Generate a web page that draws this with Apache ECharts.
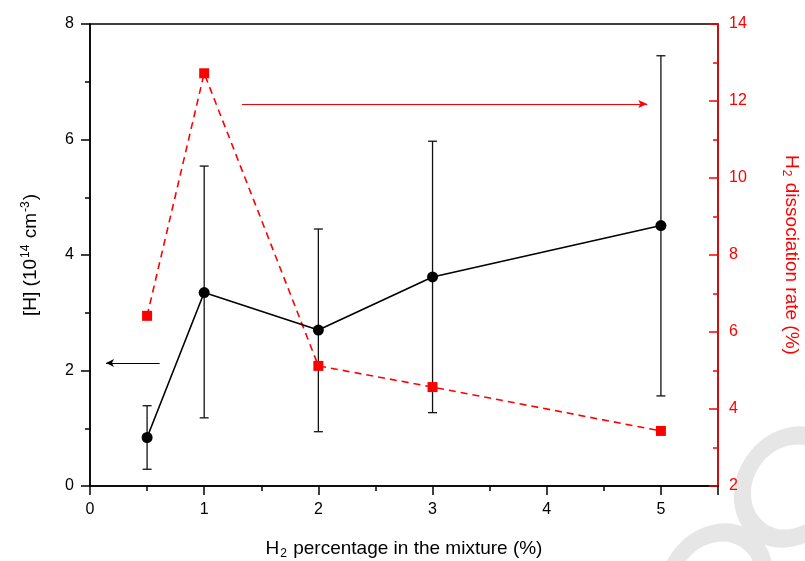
<!DOCTYPE html>
<html>
<head>
<meta charset="utf-8">
<script src="https://cdn.jsdelivr.net/npm/echarts@6/dist/echarts.min.js"></script>
<style>
  html, body { margin: 0; padding: 0; background: #fff; }
  #chart { width: 805px; height: 561px; }
</style>
</head>
<body>
<div id="chart"></div>
<script>
// H2 percentage (%)
const h2Percent = [0.5, 1, 2, 3, 5];
// [H] density, 10^14 cm^-3
const hDensity = [0.84, 3.35, 2.70, 3.62, 4.51];
const hErrLow = [0.29, 1.18, 0.94, 1.27, 1.56];
const hErrHigh = [1.39, 5.54, 4.45, 5.97, 7.45];
// H2 dissociation rate (%)
const dissRate = [6.42, 12.72, 5.12, 4.57, 3.43];
// axis-pointer arrows (data coords)
const leftArrow = [[0.61, 2.13], [0.14, 2.13]];
const rightArrow = [[1.33, 11.92], [4.88, 11.92]];

const FONT = 'Liberation Sans, Arial, sans-serif';
const RED = '#ff0000';

const chart = echarts.init(document.getElementById('chart'));

// watermark rings (light grey "O"s at bottom right)
const ring = (x, y) => ({
  type: 'circle',
  x: x, y: y,
  scaleX: 0.85,
  rotation: -0.6,
  shape: { cx: 0, cy: 0, r: 54 },
  style: { fill: 'none', stroke: '#e6e6e6', lineWidth: 19 },
  z: -10,
  silent: true
});

const option = {
  backgroundColor: '#ffffff',
  animation: false,
  graphic: [ring(716, 584), ring(791, 487), ring(862, 376)],
  grid: {
    left: 90, right: 87, top: 24, bottom: 75,
    outerBoundsMode: 'none',
    containLabel: false,
    show: true, borderColor: '#000', borderWidth: 1.5,
    backgroundColor: 'transparent'
  },
  xAxis: {
    type: 'value',
    min: 0, max: 5.5, interval: 1,
    name: '{t|H}{s|2}{t| percentage in the mixture (%)}',
    nameLocation: 'middle',
    nameGap: 52,
    nameTextStyle: {
      rich: {
        t: { fontFamily: FONT, fontSize: 19, color: '#000', lineHeight: 22 },
        s: { fontFamily: FONT, fontSize: 12, color: '#000', lineHeight: 12, verticalAlign: 'bottom', padding: [18, 1, 0, 1] }
      }
    },
    axisLine: { lineStyle: { color: '#000', width: 1.5 } },
    axisTick: { inside: false, length: 9, lineStyle: { color: '#000', width: 1.5 } },
    minorTick: { show: true, splitNumber: 2, length: 5, lineStyle: { color: '#000', width: 1.5 } },
    splitLine: { show: false },
    axisLabel: {
      fontFamily: FONT, fontSize: 16, color: '#000', margin: 16,
      formatter: v => (Number.isInteger(v) ? String(v) : '')
    }
  },
  yAxis: [
    {
      type: 'value',
      position: 'left',
      min: 0, max: 8, interval: 2,
      name: '{t|[H] (10}{p|14}{t| cm}{p|-3}{t|)}',
      nameLocation: 'middle',
      nameGap: 48,
      nameRotate: 90,
      nameTextStyle: {
        rich: {
          t: { fontFamily: FONT, fontSize: 19, color: '#000', lineHeight: 22 },
          p: { fontFamily: FONT, fontSize: 12, color: '#000', lineHeight: 12, verticalAlign: 'top', padding: [0, 1, 18, 1] }
        }
      },
      axisLine: { show: true, lineStyle: { color: '#000', width: 1.5 } },
      axisTick: { show: true, inside: false, length: 9, lineStyle: { color: '#000', width: 1.5 } },
      minorTick: { show: true, splitNumber: 2, length: 5, lineStyle: { color: '#000', width: 1.5 } },
      splitLine: { show: false },
      axisLabel: { fontFamily: FONT, fontSize: 16, color: '#000', margin: 16 }
    },
    {
      type: 'value',
      position: 'right',
      min: 2, max: 14, interval: 2,
      name: '{t|H}{s|2}{t| dissociation rate (%)}',
      nameLocation: 'middle',
      nameGap: 62,
      nameRotate: -90,
      nameTextStyle: {
        rich: {
          t: { fontFamily: FONT, fontSize: 19, color: RED, lineHeight: 22 },
          s: { fontFamily: FONT, fontSize: 12, color: RED, lineHeight: 12, verticalAlign: 'bottom', padding: [18, 1, 0, 1] }
        }
      },
      axisLine: { show: true, lineStyle: { color: RED, width: 1.5 } },
      axisTick: { show: true, inside: true, length: 9, lineStyle: { color: RED, width: 1.5 } },
      minorTick: { show: true, splitNumber: 2, length: 5, lineStyle: { color: RED, width: 1.5 } },
      splitLine: { show: false },
      axisLabel: { fontFamily: FONT, fontSize: 16, color: RED, margin: 11 }
    }
  ],
  series: [
    {
      name: 'error',
      type: 'custom',
      xAxisIndex: 0,
      yAxisIndex: 0,
      z: 2,
      data: h2Percent.map((x, i) => [x, hErrLow[i], hErrHigh[i]]),
      renderItem: (params, api) => {
        const lo = api.coord([api.value(0), api.value(1)]);
        const hi = api.coord([api.value(0), api.value(2)]);
        const w = 4.5;
        const st = { stroke: '#111', lineWidth: 1.3 };
        return {
          type: 'group',
          children: [
            { type: 'line', shape: { x1: lo[0], y1: lo[1], x2: hi[0], y2: hi[1] }, style: st },
            { type: 'line', shape: { x1: lo[0] - w, y1: lo[1], x2: lo[0] + w, y2: lo[1] }, style: st },
            { type: 'line', shape: { x1: hi[0] - w, y1: hi[1], x2: hi[0] + w, y2: hi[1] }, style: st }
          ]
        };
      }
    },
    {
      name: '[H]',
      type: 'line',
      xAxisIndex: 0,
      yAxisIndex: 0,
      z: 4,
      data: h2Percent.map((x, i) => [x, hDensity[i]]),
      symbol: 'circle',
      symbolSize: 11,
      itemStyle: { color: '#000' },
      lineStyle: { color: '#000', width: 1.6 },
      markLine: {
        silent: true,
        symbol: ['none', 'arrow'],
        symbolSize: [6, 8],
        label: { show: false },
        lineStyle: { color: '#000', width: 1.2, type: 'solid' },
        data: [[{ coord: leftArrow[0] }, { coord: leftArrow[1] }]]
      }
    },
    {
      name: 'dissociation',
      type: 'line',
      xAxisIndex: 0,
      yAxisIndex: 1,
      z: 3,
      data: h2Percent.map((x, i) => [x, dissRate[i]]),
      symbol: 'rect',
      symbolSize: 10,
      itemStyle: { color: RED },
      lineStyle: { color: RED, width: 1.6, type: [7, 5] },
      markLine: {
        silent: true,
        symbol: ['none', 'arrow'],
        symbolSize: [6, 9],
        label: { show: false },
        lineStyle: { color: RED, width: 1.2, type: 'solid' },
        data: [[{ coord: rightArrow[0] }, { coord: rightArrow[1] }]]
      }
    }
  ]
};

chart.setOption(option);
</script>
</body>
</html>
